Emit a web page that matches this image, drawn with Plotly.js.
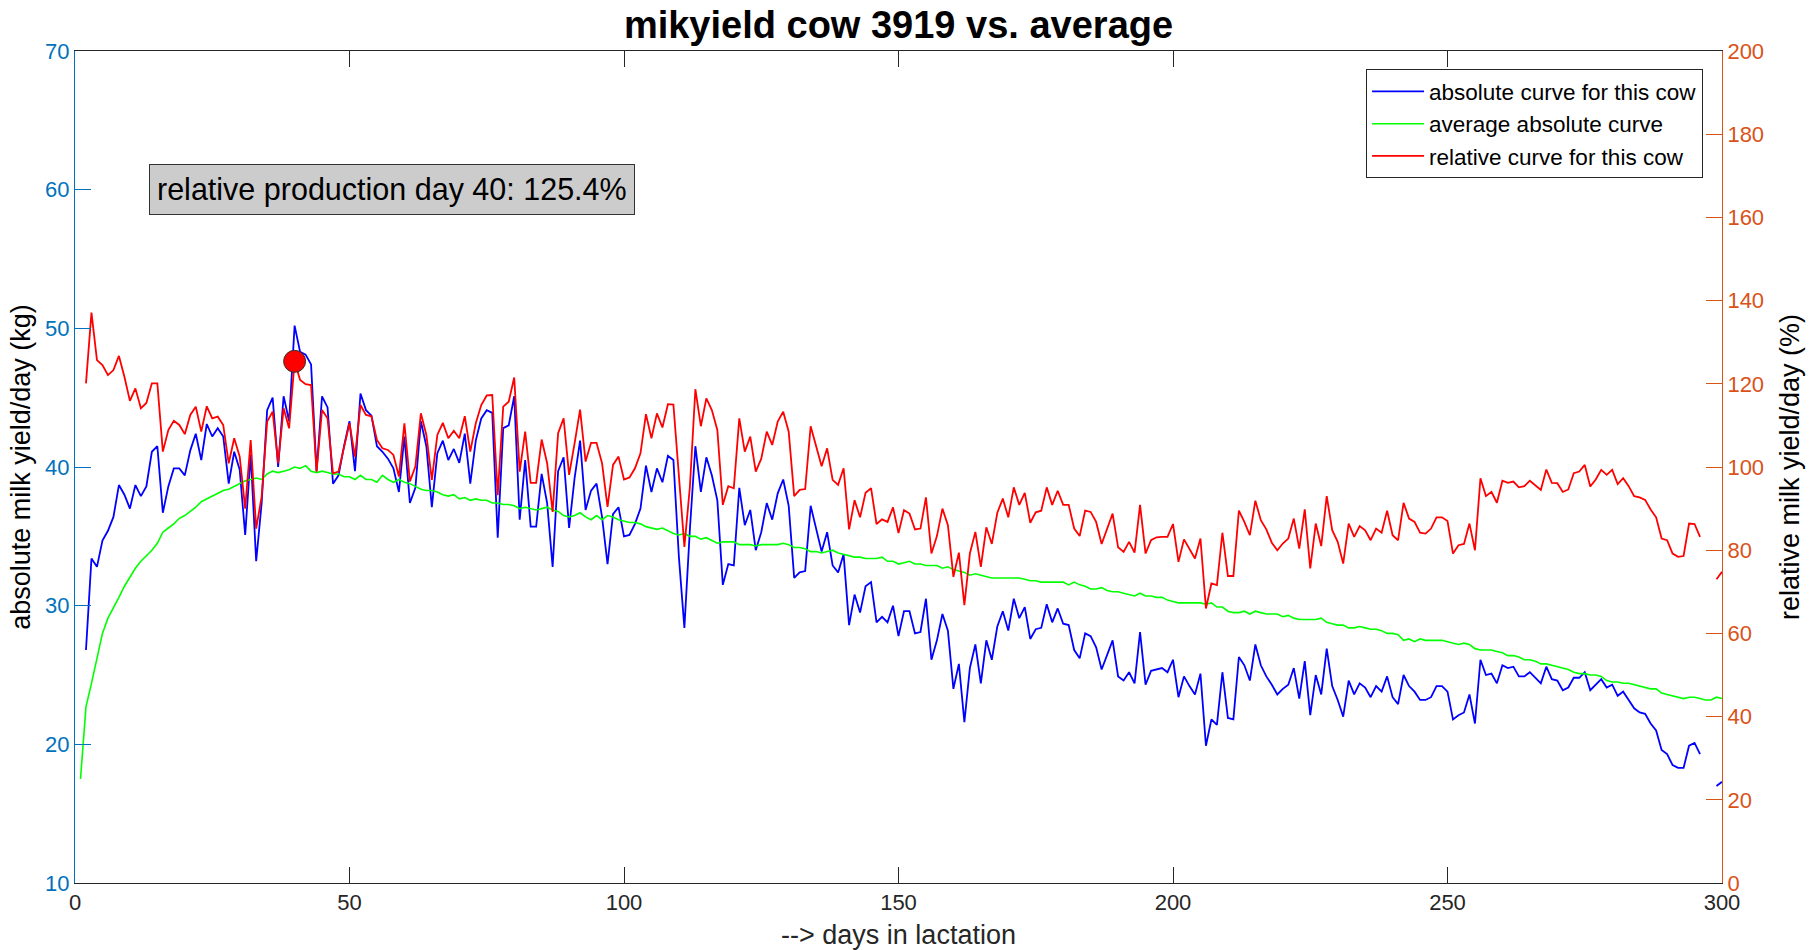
<!DOCTYPE html>
<html>
<head>
<meta charset="utf-8">
<script src="https://cdn.plot.ly/plotly-3.0.1.min.js"></script>
<style>
html,body{margin:0;padding:0;background:#fff;}
#chart{width:1817px;height:950px;}
</style>
</head>
<body>
<div id="chart"></div>
<script>
// day of the first element in each series (one value per day)
const firstDay = 1;

// absolute milk yield of cow 3919 (kg/day), days 1..300 (null = no record)
const absoluteCow = [
null,26.8,33.4,32.8,34.7,35.4,36.4,38.7,38.0,37.0,
38.7,37.9,38.6,41.1,41.5,36.7,38.6,39.9,39.9,39.4,
41.2,42.4,40.5,43.1,42.2,42.8,42.2,38.8,41.1,39.8,
35.1,40.9,33.2,37.4,44.1,45.0,40.0,45.1,43.3,50.2,
48.3,48.1,47.4,39.7,45.1,44.3,38.8,39.4,41.5,43.3,
39.7,45.3,44.1,43.7,41.5,41.1,40.6,39.9,38.2,42.2,
37.4,38.5,43.3,41.5,37.1,41.0,41.9,40.5,41.3,40.3,
42.4,38.8,41.9,43.5,44.1,43.9,34.9,42.8,43.0,45.1,
36.2,40.5,35.7,35.7,39.5,37.4,32.8,39.7,40.7,35.6,
39.2,41.9,36.9,38.3,38.8,36.4,33.0,36.6,37.1,35.0,
35.1,35.9,37.0,40.1,38.2,39.9,38.9,40.8,40.5,33.5,
28.4,35.5,41.5,38.2,40.7,39.4,37.6,31.5,33.0,32.9,
38.5,35.8,36.9,34.0,35.3,37.4,36.2,38.1,39.1,37.2,
32.0,32.4,32.5,37.2,35.5,33.9,35.3,32.9,32.4,33.7,
28.6,30.8,29.5,31.4,31.7,28.8,29.2,28.8,30.0,27.8,
29.6,29.6,28.0,28.1,30.5,26.1,27.5,29.4,28.2,24.0,
25.8,21.6,25.5,27.2,24.4,27.5,26.1,28.5,29.6,28.2,
30.5,29.1,29.9,27.6,28.3,28.4,30.1,28.8,29.8,28.7,
28.6,26.8,26.2,28.0,27.8,27.0,25.4,26.4,27.5,24.9,
24.6,25.2,24.4,28.1,24.3,25.3,25.4,25.5,25.2,26.1,
23.4,24.9,24.2,23.6,25.1,19.9,21.8,21.4,25.2,21.9,
21.8,26.3,25.7,24.6,27.2,25.7,24.9,24.3,23.6,24.0,
24.3,25.5,23.3,26.0,22.1,25.0,23.6,26.9,24.2,23.2,
22.0,24.6,23.6,24.4,24.1,23.4,24.2,23.8,24.9,23.4,
22.9,25.0,24.2,23.8,23.2,23.2,23.4,24.2,24.2,23.8,
21.8,22.1,22.3,23.6,21.5,26.1,25.0,25.1,24.4,25.7,
25.5,25.6,24.9,24.9,25.2,24.8,24.4,25.6,24.7,24.6,
23.9,24.1,24.8,24.8,25.2,23.9,24.3,24.7,24.1,24.3,
23.5,23.8,23.2,22.6,22.3,22.2,21.5,21.0,19.6,19.3,
18.5,18.3,18.3,19.9,20.1,19.3,null,null,17.0,17.3
];

// average absolute curve of the herd (kg/day), days 1..300
const averageAbsolute = [
17.5,22.7,24.4,26.3,28.0,29.1,29.8,30.6,31.4,32.1,
32.7,33.2,33.6,34.0,34.5,35.3,35.6,35.9,36.3,36.5,
36.8,37.1,37.5,37.7,37.9,38.1,38.3,38.4,38.6,38.8,
39.0,39.1,39.2,39.1,39.5,39.7,39.6,39.7,39.8,40.0,
39.9,40.1,39.7,39.6,39.7,39.6,39.5,39.5,39.3,39.3,
39.1,39.4,39.1,39.1,38.9,39.4,39.1,38.9,39.1,38.9,
38.8,38.6,38.4,38.3,38.3,38.2,38.0,37.9,38.0,37.7,
37.8,37.6,37.7,37.6,37.6,37.4,37.4,37.3,37.3,37.2,
37.0,37.1,37.0,36.9,37.0,37.1,36.9,36.8,36.5,36.4,
36.5,36.7,36.4,36.2,36.5,36.2,36.5,36.4,36.2,36.1,
36.0,36.0,35.9,35.7,35.6,35.5,35.6,35.4,35.2,35.1,
35.2,35.0,35.0,34.8,34.9,34.7,34.5,34.6,34.6,34.6,
34.4,34.4,34.4,34.3,34.4,34.4,34.4,34.4,34.5,34.4,
34.2,34.2,34.1,33.9,33.9,33.8,33.9,34.0,33.8,33.7,
33.6,33.5,33.5,33.4,33.4,33.4,33.5,33.2,33.2,33.0,
33.1,33.2,33.0,33.0,32.9,32.9,32.9,32.7,32.8,32.6,
32.5,32.4,32.2,32.3,32.2,32.1,32.0,32.0,32.0,32.0,
32.0,32.0,31.9,31.8,31.8,31.7,31.7,31.7,31.7,31.7,
31.5,31.7,31.5,31.4,31.2,31.2,31.3,31.1,31.0,31.0,
30.9,30.8,30.7,30.9,30.7,30.7,30.6,30.6,30.4,30.3,
30.2,30.2,30.2,30.2,30.2,30.1,30.2,29.9,29.9,29.6,
29.5,29.5,29.6,29.4,29.6,29.5,29.4,29.4,29.4,29.2,
29.3,29.1,29.0,29.0,29.0,29.0,29.1,28.8,28.7,28.6,
28.6,28.4,28.4,28.5,28.4,28.3,28.3,28.2,28.0,28.0,
27.9,27.5,27.6,27.4,27.6,27.5,27.5,27.5,27.5,27.4,
27.3,27.2,27.3,27.2,26.9,26.8,26.8,26.8,26.7,26.6,
26.4,26.4,26.3,26.1,26.1,26.0,25.8,25.8,25.7,25.6,
25.5,25.4,25.2,25.1,25.1,25.0,25.0,24.9,24.6,24.5,
24.5,24.4,24.4,24.3,24.2,24.1,24.0,24.0,23.7,23.6,
23.5,23.4,23.3,23.4,23.4,23.3,23.2,23.2,23.4,23.3
];

// relative curve of cow 3919 (% of average), days 1..300 (null = no record)
const relativeCow = [
null,120.1,137.1,125.7,124.5,122.1,123.3,126.7,121.7,115.9,
118.9,114.1,115.4,120.1,120.1,103.7,108.9,111.1,110.1,107.9,
112.5,114.5,108.5,114.6,111.7,112.1,110.1,100.9,106.9,102.5,
90.0,106.5,85.2,92.9,110.9,113.3,100.9,114.1,109.3,125.4,
120.9,119.9,119.7,98.9,113.7,111.7,98.5,98.9,104.9,110.5,
102.5,114.9,112.5,112.2,106.5,104.5,104.1,102.9,97.7,110.5,
96.5,100.1,112.9,107.7,96.9,107.7,110.6,106.9,108.7,106.9,
112.2,103.7,110.5,114.9,117.2,117.3,93.2,114.5,115.7,121.5,
98.9,108.5,96.2,96.2,106.6,100.9,89.2,108.1,111.7,98.1,
105.7,113.8,101.3,105.8,105.8,100.9,90.4,100.5,102.5,97.0,
97.5,99.7,103.3,112.7,106.9,112.9,109.5,115.1,115.0,97.7,
80.8,95.2,118.7,109.8,116.5,113.7,108.9,90.9,95.4,94.9,
111.7,103.7,107.3,98.9,102.0,108.5,105.3,110.9,113.3,108.5,
93.0,94.5,94.7,109.8,104.9,100.2,104.5,96.9,95.7,99.7,
85.0,92.0,87.9,93.8,94.9,86.3,87.4,86.8,90.3,84.1,
89.6,88.8,85.0,85.2,92.7,79.2,83.4,90.0,86.0,73.6,
79.4,66.8,79.2,84.4,76.0,85.5,81.5,89.0,92.4,87.9,
95.1,90.9,93.8,86.6,89.1,89.5,95.1,90.9,94.3,90.9,
90.9,85.2,83.4,89.5,89.2,86.8,81.5,85.2,88.8,80.7,
79.6,82.0,79.4,90.9,79.2,82.4,83.1,83.2,83.2,86.3,
77.2,82.6,80.4,78.0,82.8,66.0,72.0,71.6,84.2,73.8,
73.8,89.5,86.8,83.6,91.9,87.2,85.0,81.8,80.0,81.6,
82.8,87.6,80.4,89.8,75.6,86.4,81.0,93.0,84.8,82.0,
76.8,86.4,83.2,85.8,84.8,82.4,85.2,84.2,89.5,83.6,
82.4,91.4,87.6,86.8,84.2,84.0,85.2,87.9,87.9,87.0,
79.2,81.2,81.5,86.4,80.0,97.3,93.0,94.0,91.4,96.7,
96.2,96.5,95.1,95.4,96.7,95.7,94.5,99.4,96.2,96.1,
94.0,94.6,98.5,98.9,100.5,95.3,97.0,99.3,98.1,99.3,
95.9,97.3,95.4,93.0,92.7,92.1,89.8,87.9,82.8,82.4,
79.2,78.4,78.6,86.4,86.3,83.2,null,null,73.0,74.8
];

// highlighted day
const markDay = [40];
const markRelative = [125.4];

const seriesNames = ["absolute curve for this cow", "average absolute curve", "relative curve for this cow"];
const titleText = "mikyield cow 3919 vs. average";
const xLabel = "--> days in lactation";
const yLeftLabel = "absolute milk yield/day (kg)";
const yRightLabel = "relative milk yield/day (%)";
const boxText = "relative production day " + markDay[0] + ": " + markRelative[0].toFixed(1) + "%";

const FONT = "'Liberation Sans', Arial, Helvetica, sans-serif";
const LEFTC = "#0072BD", RIGHTC = "#D95319", AXC = "#262626";

const traces = [
  {type:"scatter", mode:"lines", name:seriesNames[0], x0:firstDay, dx:1, y:absoluteCow,
   line:{color:"#0000FF", width:1.8}, xaxis:"x", yaxis:"y", connectgaps:false},
  {type:"scatter", mode:"lines", name:seriesNames[1], x0:firstDay, dx:1, y:averageAbsolute,
   line:{color:"#00FF00", width:1.6}, xaxis:"x", yaxis:"y"},
  {type:"scatter", mode:"lines", name:seriesNames[2], x0:firstDay, dx:1, y:relativeCow,
   line:{color:"#FF0000", width:1.8}, xaxis:"x", yaxis:"y2", connectgaps:false},
  {type:"scatter", mode:"markers", x:markDay, y:markRelative, showlegend:false,
   marker:{color:"#FF0000", size:22, line:{color:"#333333", width:1}}, xaxis:"x", yaxis:"y2"}
];

const layout = {
  width:1817, height:950,
  paper_bgcolor:"#FFFFFF", plot_bgcolor:"#FFFFFF",
  margin:{l:75, r:95, t:51, b:67},
  font:{family:FONT, color:AXC},
  showlegend:true,
  title:{text:"<b>"+titleText+"</b>", font:{family:FONT, size:38, color:"#000000"},
         x:0.4945, xanchor:"center", y:0.974, yanchor:"middle"},
  xaxis:{range:[0,300], tickvals:[0,50,100,150,200,250,300], ticks:"inside", ticklen:16,
         tickcolor:AXC, showline:true, linecolor:AXC, linewidth:1, mirror:"ticks",
         showgrid:false, zeroline:false, tickfont:{size:22, color:AXC},
         title:{text:xLabel, font:{size:27, color:AXC}, standoff:12}},
  yaxis:{range:[10,70], tickvals:[10,20,30,40,50,60,70], ticks:"inside", ticklen:16,
         tickcolor:LEFTC, showline:true, linecolor:LEFTC, linewidth:1,
         showgrid:false, zeroline:false, tickfont:{size:22, color:LEFTC},
         title:{text:yLeftLabel, font:{size:27, color:"#000000"}, standoff:6}},
  yaxis2:{range:[0,200], tickvals:[0,20,40,60,80,100,120,140,160,180,200], ticks:"inside", ticklen:16,
          tickcolor:RIGHTC, showline:true, linecolor:RIGHTC, linewidth:1,
          overlaying:"y", side:"right", anchor:"x",
          showgrid:false, zeroline:false, tickfont:{size:22, color:RIGHTC},
          title:{text:yRightLabel, font:{size:27, color:"#000000"}, standoff:16}},
  legend:{x:0.9885, xanchor:"right", y:0.978, yanchor:"top", bgcolor:"#FFFFFF",
          bordercolor:AXC, borderwidth:1, font:{size:22.5, color:"#000000"},
          itemwidth:52, tracegroupgap:0},
  annotations:[
    {xref:"x", yref:"y", x:57.8, y:60.0, text:boxText, showarrow:false,
     font:{family:FONT, size:30.5, color:"#000000"}, bgcolor:"#CCCCCC",
     bordercolor:"#333333", borderwidth:1, borderpad:7}
  ]
};

Plotly.newPlot("chart", traces, layout, {displayModeBar:false, staticPlot:true});
</script>
</body>
</html>
